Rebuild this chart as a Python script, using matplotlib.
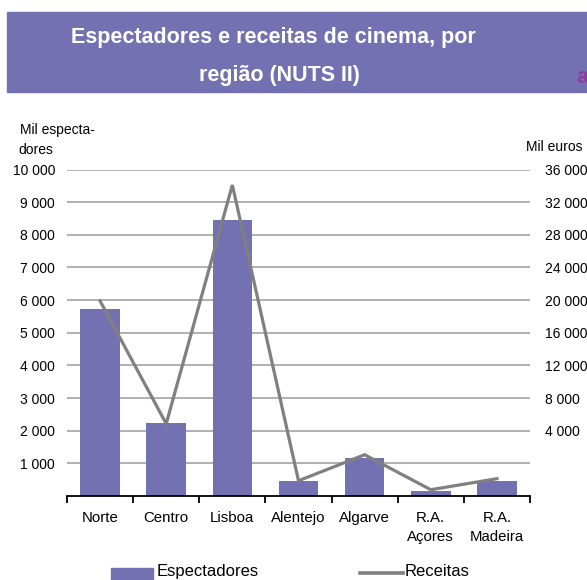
import matplotlib
matplotlib.use("Agg")
import matplotlib.pyplot as plt
from matplotlib.patches import Rectangle
from matplotlib.lines import Line2D

plt.rcParams['font.family'] = ['Liberation Sans', 'DejaVu Sans']

categories = ["Norte", "Centro", "Lisboa", "Alentejo", "Algarve", "R.A.\nAçores", "R.A.\nMadeira"]
espectadores = [5730, 2240, 8450, 460, 1170, 160, 460]
receitas = [19900, 4850, 34100, -2130, 1055, -3230, -1880]
left_ticks = [1000, 2000, 3000, 4000, 5000, 6000, 7000, 8000, 9000, 10000]
right_ticks = [4000, 8000, 12000, 16000, 20000, 24000, 28000, 32000, 36000]

title_line1 = "Espectadores e receitas de cinema, por"
title_line2 = "região (NUTS II)"

W, H = 587, 580
BAR = '#7471B3'
LINE = '#808080'
GRID = '#A3A3A3'

def fx(x):
    return x / W

def fy(y):
    return 1 - y / H

fig = plt.figure(figsize=(W / 100, H / 100), dpi=100)

# title banner
fig.patches.append(Rectangle((fx(7), fy(92)), fx(587) - fx(7), fy(12) - fy(92),
                             transform=fig.transFigure, color=BAR, zorder=0))
fig.text(fx(273), fy(38), title_line1, color='white', fontsize=15.5, fontweight='bold',
         ha='center', va='center')
fig.text(fx(279), fy(76), title_line2, color='white', fontsize=15.5, fontweight='bold',
         ha='center', va='center')
fig.text(fx(576), fy(83), "a", color='#8E3C9C', fontsize=15.5, fontweight='bold',
         ha='left', va='baseline')

ax = fig.add_axes([fx(67), fy(496), fx(530) - fx(67), fy(169.5) - fy(496)])
x = list(range(len(categories)))
ax.bar(x, espectadores, width=0.6, color=BAR, zorder=2)
ax.set_xlim(-0.5, len(categories) - 0.5)
ax.set_ylim(0, 10000)
ax.set_yticks(left_ticks)
ax.set_yticklabels([f"{v:,}".replace(",", " ") for v in left_ticks], fontsize=10)
ax.tick_params(axis='y', length=0, pad=8.5)
ax.set_axisbelow(True)
ax.grid(axis='y', color=GRID, linewidth=1.2)
for s in ['left', 'right', 'top']:
    ax.spines[s].set_visible(False)
ax.spines['bottom'].set_color('black')
ax.spines['bottom'].set_linewidth(1.3)

# category boundary ticks and centred labels
ax.set_xticks([i - 0.5 for i in range(len(categories) + 1)])
ax.set_xticklabels([])
ax.tick_params(axis='x', which='major', direction='out', length=5, width=1.3, color='black')
ax.set_xticks(x, minor=True)
ax.set_xticklabels(categories, minor=True, fontsize=10.8, linespacing=1.45)
ax.tick_params(axis='x', which='minor', length=0, pad=11)

ax2 = ax.twinx()
ax2.plot(x, receitas, color=LINE, linewidth=2.3, solid_joinstyle='miter', zorder=3)
ax2.set_ylim(-4000, 36000)
ax2.set_yticks(right_ticks)
ax2.set_yticklabels([f"{v:,}".replace(",", " ") for v in right_ticks], fontsize=10)
ax2.tick_params(axis='y', length=0, pad=11)
for s in ['left', 'right', 'top', 'bottom']:
    ax2.spines[s].set_visible(False)

# axis titles
fig.text(fx(20), fy(130), "Mil especta-", fontsize=10, ha='left', va='center')
fig.text(fx(18), fy(150), "dores", fontsize=10, ha='left', va='center')
fig.text(fx(526), fy(147), "Mil euros", fontsize=10, ha='left', va='center')

# legend
fig.patches.append(Rectangle((fx(111), fy(582)), fx(153) - fx(111), fy(568) - fy(582),
                             transform=fig.transFigure, color=BAR))
fig.text(fx(157), fy(579), "Espectadores", fontsize=12, ha='left', va='bottom')
fig.lines.append(Line2D([fx(360), fx(403)], [fy(573), fy(573)], transform=fig.transFigure,
                        color=LINE, linewidth=2.6))
fig.text(fx(405), fy(579), "Receitas", fontsize=12, ha='left', va='bottom')

fig.savefig("out.png", dpi=100)
